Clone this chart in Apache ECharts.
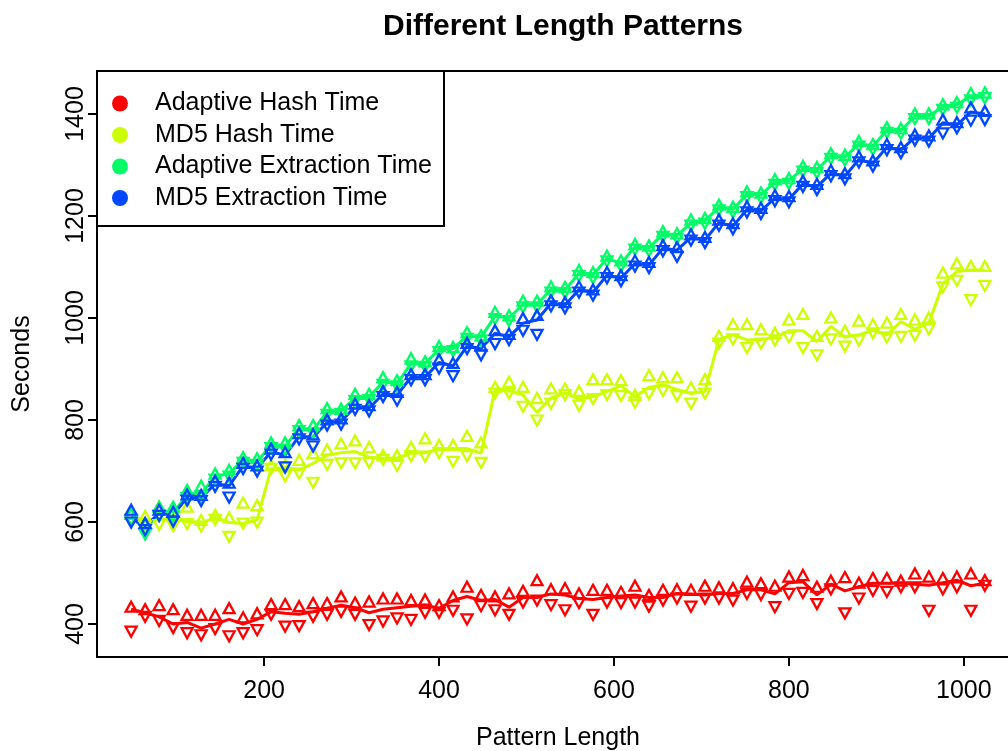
<!DOCTYPE html>
<html>
<head>
<meta charset="utf-8">
<title>Different Length Patterns</title>
<script src="https://cdn.jsdelivr.net/npm/echarts@6/dist/echarts.min.js"></script>
<style>
  html, body { margin: 0; padding: 0; background: #fff; }
  #chart { width: 1008px; height: 751px; }
</style>
</head>
<body>
<div id="chart"></div>
<script>
  /* pattern lengths on the x axis */
  var lengths = [48, 64, 80, 96, 112, 128, 144, 160, 176, 192,
    208, 224, 240, 256, 272, 288, 304, 320, 336, 352,
    368, 384, 400, 416, 432, 448, 464, 480, 496, 512,
    528, 544, 560, 576, 592, 608, 624, 640, 656, 672,
    688, 704, 720, 736, 752, 768, 784, 800, 816, 832,
    848, 864, 880, 896, 912, 928, 944, 960, 976, 992,
    1008, 1024];

  /* Adaptive Hash Time */
  var adaptHashMean = [429, 422, 414, 400, 403, 392, 400, 409, 400, 409,
    424, 421, 419, 424, 431, 437, 432, 422, 429, 432,
    435, 437, 431, 446, 454, 446, 448, 433, 452, 452,
    459, 457, 450, 448, 452, 455, 457, 452, 452, 460,
    459, 457, 460, 460, 467, 467, 459, 481, 483, 457,
    478, 465, 473, 480, 480, 480, 478, 476, 481, 486,
    475, 480];
  var adaptHashMax = [434, 429, 437, 429, 418, 418, 418, 431, 413, 421,
    439, 439, 435, 441, 441, 454, 442, 444, 450, 450,
    447, 448, 437, 454, 473, 457, 454, 460, 465, 486,
    468, 470, 460, 467, 467, 463, 475, 457, 467, 468,
    467, 475, 472, 470, 483, 480, 475, 493, 496, 473,
    485, 492, 481, 490, 490, 485, 499, 493, 490, 493,
    499, 486];
  var adaptHashMin = [385, 414, 406, 392, 382, 378, 390, 376, 382, 388,
    418, 395, 396, 414, 418, 424, 418, 398, 405, 411,
    408, 422, 422, 426, 409, 435, 427, 418, 442, 446,
    437, 427, 441, 418, 442, 441, 442, 434, 446, 450,
    434, 450, 450, 446, 459, 457, 433, 459, 461, 439,
    468, 421, 450, 465, 463, 472, 472, 426, 468, 472,
    426, 475];

  /* MD5 Hash Time */
  var md5HashMean = [610, 604, 607, 605, 601, 598, 609, 599, 597, 604,
    705, 707, 702, 715, 731, 736, 738, 727, 725, 725,
    735, 736, 742, 744, 744, 735, 859, 857, 849, 815,
    843, 853, 841, 846, 856, 867, 846, 864, 869, 860,
    852, 856, 958, 967, 957, 958, 962, 975, 975, 954,
    984, 962, 967, 976, 967, 993, 978, 990, 1067, 1091,
    1094, 1094];
  var md5HashMax = [617, 612, 630, 612, 630, 604, 614, 609, 638, 633,
    712, 712, 722, 735, 742, 754, 760, 747, 731, 731,
    747, 764, 751, 751, 769, 756, 865, 875, 865, 843,
    862, 862, 857, 880, 880, 878, 849, 888, 884, 884,
    864, 880, 965, 988, 988, 978, 971, 997, 1008, 965,
    1001, 975, 995, 988, 991, 1008, 997, 1001, 1089, 1107,
    1102, 1102];
  var md5HashMin = [604, 591, 594, 592, 596, 591, 604, 571, 597, 599,
    704, 689, 695, 677, 712, 715, 715, 716, 722, 710,
    729, 728, 735, 718, 729, 716, 852, 852, 826, 799,
    832, 849, 828, 841, 849, 847, 834, 851, 857, 847,
    832, 852, 950, 958, 941, 950, 956, 962, 941, 927,
    958, 944, 956, 970, 962, 963, 965, 978, 1060, 1073,
    1035, 1063];

  /* Adaptive Extraction Time */
  var adaptExtMean = [610, 585, 618, 618, 653, 656, 689, 695, 722, 718,
    751, 748, 784, 780, 816, 818, 843, 845, 875, 871,
    911, 910, 939, 940, 965, 962, 1004, 1000, 1027, 1027,
    1056, 1055, 1088, 1084, 1117, 1107, 1140, 1137, 1165, 1161,
    1187, 1191, 1217, 1213, 1243, 1241, 1267, 1269, 1293, 1290,
    1318, 1315, 1342, 1336, 1369, 1367, 1396, 1396, 1414, 1418,
    1435, 1437];
  var adaptExtMax = [616, 596, 630, 630, 663, 671, 695, 702, 727, 725,
    756, 756, 790, 790, 823, 822, 851, 851, 884, 878,
    921, 915, 945, 943, 972, 966, 1012, 1005, 1034, 1034,
    1062, 1061, 1094, 1090, 1122, 1113, 1145, 1142, 1170, 1166,
    1193, 1196, 1222, 1218, 1248, 1246, 1272, 1274, 1298, 1296,
    1323, 1320, 1347, 1341, 1374, 1372, 1401, 1401, 1419, 1423,
    1441, 1442];
  var adaptExtMin = [604, 576, 612, 611, 647, 650, 683, 689, 716, 712,
    745, 742, 778, 774, 810, 812, 837, 839, 869, 866,
    905, 904, 933, 935, 959, 956, 998, 994, 1021, 1021,
    1050, 1049, 1082, 1078, 1111, 1101, 1134, 1131, 1159, 1155,
    1181, 1185, 1211, 1207, 1237, 1235, 1261, 1263, 1287, 1284,
    1312, 1309, 1336, 1330, 1363, 1361, 1390, 1390, 1408, 1412,
    1427, 1431];

  /* MD5 Extraction Time */
  var md5ExtMean = [609, 590, 618, 614, 648, 647, 675, 671, 710, 705,
    738, 731, 768, 766, 795, 797, 826, 823, 851, 849,
    884, 884, 913, 906, 945, 940, 970, 963, 990, 996,
    1029, 1025, 1056, 1050, 1084, 1078, 1107, 1104, 1137, 1133,
    1158, 1153, 1187, 1180, 1213, 1210, 1235, 1233, 1263, 1257,
    1284, 1278, 1311, 1303, 1335, 1329, 1354, 1352, 1383, 1378,
    1404, 1400];
  var md5ExtMax = [624, 598, 624, 620, 654, 653, 681, 677, 716, 711,
    744, 737, 774, 772, 801, 803, 832, 829, 857, 855,
    890, 890, 919, 912, 951, 946, 976, 969, 1000, 1006,
    1035, 1031, 1062, 1056, 1090, 1084, 1113, 1110, 1143, 1139,
    1164, 1159, 1193, 1186, 1219, 1216, 1241, 1239, 1269, 1263,
    1290, 1284, 1317, 1309, 1341, 1335, 1360, 1358, 1389, 1384,
    1413, 1406];
  var md5ExtMin = [599, 584, 612, 601, 642, 641, 669, 648, 704, 699,
    732, 707, 762, 748, 789, 791, 820, 817, 845, 838,
    878, 878, 901, 886, 939, 927, 949, 957, 975, 967,
    1023, 1019, 1050, 1044, 1078, 1072, 1101, 1098, 1131, 1120,
    1152, 1147, 1181, 1174, 1207, 1204, 1229, 1227, 1257, 1251,
    1278, 1272, 1305, 1297, 1329, 1323, 1348, 1346, 1362, 1372,
    1387, 1388];

  var seriesNames = ['Adaptive Hash Time', 'MD5 Hash Time', 'Adaptive Extraction Time', 'MD5 Extraction Time'];
  var xTicks = [200, 400, 600, 800, 1000];
  var yTicks = [400, 600, 800, 1000, 1200, 1400];

  var colors = ['#FF0000', '#CCFF00', '#00FF66', '#0048FF'];
  var font = '"Liberation Sans", Arial, Helvetica, sans-serif';

  function pairs(ys) {
    return lengths.map(function (x, i) { return [x, ys[i]]; });
  }

  function lineSeries(name, ys, color) {
    return {
      type: 'line', name: name, data: pairs(ys),
      showSymbol: false, symbol: 'none',
      itemStyle: {color: color},
      lineStyle: {color: color, width: 3},
      z: 2
    };
  }

  function triSeries(name, ys, color, down) {
    return {
      type: 'scatter', name: name, data: pairs(ys),
      symbol: 'triangle', symbolSize: [11, 10],
      symbolRotate: down ? 180 : 0,
      itemStyle: {color: 'rgba(255,255,255,0)', borderColor: color, borderWidth: 2.3, opacity: 1},
      z: 2
    };
  }

  var groups = [
    [adaptHashMean, adaptHashMax, adaptHashMin],
    [md5HashMean, md5HashMax, md5HashMin],
    [adaptExtMean, adaptExtMax, adaptExtMin],
    [md5ExtMean, md5ExtMax, md5ExtMin]
  ];

  var series = [];
  groups.forEach(function (g, k) {
    series.push(lineSeries(seriesNames[k], g[0], colors[k]));
    series.push(triSeries(seriesNames[k] + ' max', g[1], colors[k], false));
    series.push(triSeries(seriesNames[k] + ' min', g[2], colors[k], true));
  });

  function plain(v) { return String(v); }

  var chart = echarts.init(document.getElementById('chart'), null, {renderer: 'canvas'});

  chart.setOption({
    animation: false,
    backgroundColor: '#fff',
    title: {
      text: 'Different Length Patterns',
      left: 558, top: 7, textAlign: 'center',
      textStyle: {fontFamily: font, fontSize: 30, fontWeight: 'bold', color: '#000'}
    },
    legend: {
      data: seriesNames,
      orient: 'vertical',
      left: 112, top: 91,
      padding: 0,
      itemGap: 6.5,
      icon: 'circle',
      itemWidth: 16, itemHeight: 16,
      textStyle: {fontFamily: font, fontSize: 25, color: '#000', lineHeight: 25, padding: [0, 0, 0, 22]},
      z: 10
    },
    graphic: [{
      type: 'rect', z: 5,
      shape: {x: 97, y: 71, width: 347, height: 155},
      style: {fill: '#fff', stroke: '#000', lineWidth: 2}
    }],
    grid: {
      show: true, left: 97, top: 71, width: 922, height: 586,
      outerBoundsMode: 'none', containLabel: false,
      borderColor: '#000', borderWidth: 2, backgroundColor: 'rgba(0,0,0,0)'
    },
    xAxis: {
      type: 'value', min: 8.96, max: 1063.04,
      name: 'Pattern Length', nameLocation: 'middle', nameGap: 69,
      nameTextStyle: {fontFamily: font, fontSize: 25, color: '#000'},
      axisLine: {show: false},
      splitLine: {show: false},
      axisTick: {show: true, inside: false, length: 9, customValues: xTicks, lineStyle: {color: '#000', width: 2}},
      axisLabel: {customValues: xTicks, formatter: plain, margin: 22, fontFamily: font, fontSize: 25, color: '#000'}
    },
    yAxis: {
      type: 'value', min: 335.3, max: 1484.3,
      name: 'Seconds', nameLocation: 'middle', nameGap: 62,
      nameTextStyle: {fontFamily: font, fontSize: 25, color: '#000'},
      axisLine: {show: false},
      splitLine: {show: false},
      axisTick: {show: true, inside: false, length: 9, customValues: yTicks, lineStyle: {color: '#000', width: 2}},
      axisLabel: {customValues: yTicks, formatter: plain, rotate: 90, margin: 8, fontFamily: font, fontSize: 25, color: '#000'}
    },
    series: series
  });
</script>
</body>
</html>
